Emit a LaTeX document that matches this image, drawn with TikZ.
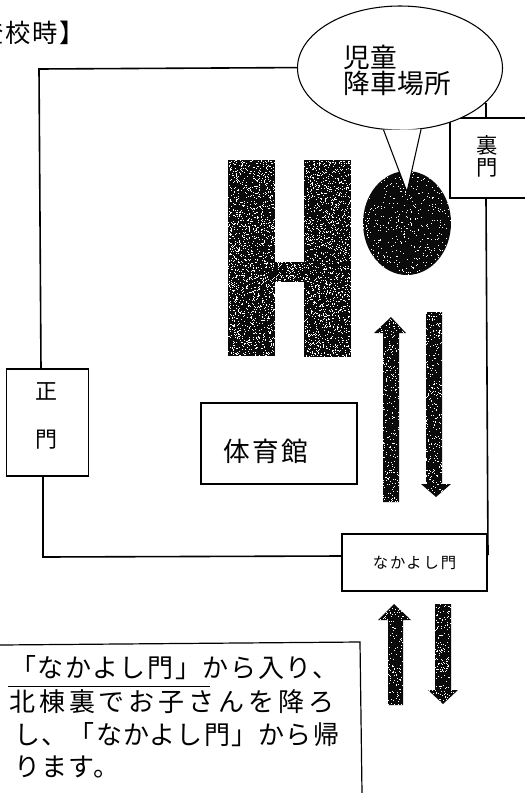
\documentclass[tikz,border=0pt]{standalone}
\usepackage{fontspec}
\usetikzlibrary{shapes.geometric}
\setmainfont{Noto Sans CJK JP}
\newcommand{\pxfont}[2]{\fontsize{#1}{#1}\selectfont\addfontfeature{LetterSpace=#2}}
\newcommand{\speckles}[5]{%
  \foreach \i in {1,...,#5}{%
    \pgfmathsetmacro\px{#1+rnd*(#3-#1)}%
    \pgfmathsetmacro\py{#2+rnd*(#4-#2)}%
    \fill[white] (\px,\py) rectangle ++(1,1);%
  }}
\newcommand{\solidshape}[6]{%
  \begin{scope}
    \clip #1;
    \fill[inkdark] (#2,#3) rectangle (#4,#5);
    \speckles{#2}{#3}{#4}{#5}{#6}
  \end{scope}}
\definecolor{inkdark}{HTML}{0A0A0A}
\tikzset{
  wall/.style={line width=1.2pt,black},
  box/.style={draw=black,line width=0.9pt,fill=white,inner sep=0pt},
  lbl/.style={inner sep=0pt,text=black},
}
\begin{document}
\begin{tikzpicture}[x=0.75pt,y=-0.75pt]
\path[use as bounding box,clip] (0,0) rectangle (525,793);
\fill[white] (0,0) rectangle (525,793);
\pgfmathsetseed{4242}

\node[lbl,anchor=west] (title) at (-49,33) {\pxfont{19}{6.5}【登校時】};

\coordinate (tl) at (39,69);
\coordinate (tr) at (400,67);
\coordinate (seimonTop) at (41,369);
\coordinate (seimonBot) at (43,476);
\coordinate (bl) at (43,557);
\coordinate (rearTop) at (486,103);
\coordinate (rearOver) at (486,118);
\coordinate (rearBot) at (486,198);
\coordinate (br) at (488,555);
\coordinate (nakaLeft) at (342,556);

\draw[wall] (tr) -- (tl) -- (seimonTop);
\draw[wall] (seimonBot) -- (bl) -- (nakaLeft);
\draw[wall] (rearTop) -- (rearOver);
\draw[wall] (rearBot) -- (br);

\node[box,minimum width=61.5pt,minimum height=80.25pt] (seimon) at (47.5,422.5) {};
\node[lbl] (seimon1) at (47,391) {\pxfont{16.5}{0}正};
\node[lbl] (seimon2) at (47,440) {\pxfont{16.5}{0}門};

\node[box,minimum width=67.5pt,minimum height=60pt] (urabox) at (495,158) {};
\node[lbl] (ura1) at (487,145) {\pxfont{16}{0}裏};
\node[lbl] (ura2) at (487,168) {\pxfont{16}{0}門};

\node[box,minimum width=108.75pt,minimum height=42.75pt] (naka) at (414.5,562.5) {\pxfont{11.5}{12}なかよし門};

\node[box,minimum width=117pt,minimum height=60.75pt] (gym) at (279,443.5) {};
\node[lbl] (gymtext) at (266,451) {\pxfont{20}{8}体育館};

% north wing, south wing, corridor
\solidshape{(228,160) rectangle (275,356)}{228}{160}{275}{356}{1500}
\solidshape{(304,160) rectangle (351,357)}{304}{160}{351}{357}{1500}
\solidshape{(275,262) rectangle (304,282)}{275}{262}{304}{282}{120}

% drop-off area
\solidshape{(407,223) ellipse [x radius=44,y radius=52]}{362}{170}{452}{276}{500}

% arrows inside the grounds
\solidshape{(391,317) -- (406,333) -- (399,333) -- (399,502) -- (383,502) -- (383,333) -- (374,333) -- cycle}{373}{316}{407}{503}{600}
\solidshape{(426,312) -- (442,312) -- (442,484) -- (451,484) -- (436,497) -- (421,484) -- (426,484) -- cycle}{420}{311}{452}{498}{600}

% arrows outside the gate
\solidshape{(394,604) -- (411,620) -- (403,620) -- (403,705) -- (388,705) -- (388,620) -- (378,620) -- cycle}{377}{603}{412}{706}{320}
\solidshape{(435,604) -- (451,604) -- (451,690) -- (458,690) -- (443,704) -- (428,690) -- (435,690) -- cycle}{427}{603}{459}{705}{320}

% speech bubble
\node[ellipse,draw=black,line width=0.8pt,fill=white,inner sep=0pt,
  minimum width=153.75pt,minimum height=93pt] (drop) at (400,68) {};
\coordinate (tailTip) at (407,192);
\fill[white] (drop.255) -- (tailTip) -- (drop.289) -- cycle;
\draw[line width=0.8pt] (drop.255) -- (tailTip) -- (drop.289);
\node[lbl,align=left] (droptext) at (397,70) {\pxfont{20}{1}児童\\[0pt]\pxfont{20}{1}降車場所};

% note box
\coordinate (noteL) at (0,645);
\coordinate (noteT) at (360,642);
\coordinate (noteB) at (362,793);
\draw[line width=0.9pt] (noteL) -- (noteT) -- (noteB);
\node[lbl,anchor=west] (line1) at (10,668) {\pxfont{19.5}{6.5}「なかよし門」から入り、};
\node[lbl,anchor=west] (line2) at (9,702) {\pxfont{19.5}{15}北棟裏でお子さんを降ろ};
\node[lbl,anchor=west] (line3) at (14,735) {\pxfont{19.5}{5}し、「なかよし門」から帰};
\node[lbl,anchor=west] (line4) at (14,767) {\pxfont{19.5}{5}ります。};
\coordinate (ulA) at (8,686);
\coordinate (ulB) at (210,686);
\draw[line width=0.6pt] (ulA) -- (ulB);
\end{tikzpicture}
\end{document}
